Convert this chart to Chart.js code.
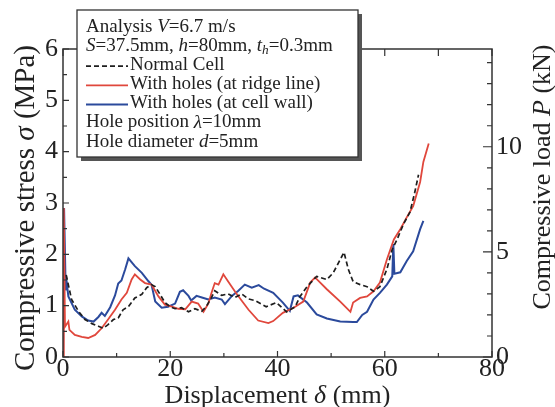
<!DOCTYPE html>
<html>
<head>
<meta charset="utf-8">
<script src="https://cdn.jsdelivr.net/npm/chart.js@4.4.1/dist/chart.umd.min.js"></script>
<style>
  html, body { margin: 0; padding: 0; background: #fff; }
  #wrap { width: 555px; height: 407px; }
</style>
</head>
<body>
<div id="wrap"><canvas id="myChart"></canvas></div>
<script>
// displacement (mm) / compressive stress (MPa)
var normalX = [0.6, 0.8, 1.6, 2.9, 4.1, 5.4, 6.6, 7.5, 8.4, 9.4, 10.3, 11.2, 12.2, 13.4, 14.7, 15.6, 16.5, 17.2, 18.1, 19.0,
               20.0, 20.9, 22.1, 23.4, 24.6, 25.9, 26.8, 27.7, 28.3, 29.6, 30.8, 32.1, 33.3, 34.6, 35.8, 37.9, 39.8, 41.7, 43.3, 44.2,
               45.5, 47.3, 49.2, 50.4, 51.7, 52.4, 53.2, 54.1, 55.4, 56.7, 57.9, 59.1, 60.4, 61.4, 62.3, 63.5, 64.7, 65.6, 66.3]
var normalY = [1.6, 1.5, 1.12, 0.89, 0.73, 0.65, 0.60, 0.56, 0.63, 0.73, 0.76, 0.92, 0.98, 1.15, 1.22, 1.35, 1.41, 1.37, 1.22, 1.06,
               0.98, 0.94, 0.96, 0.88, 0.94, 0.89, 1.0, 1.16, 1.29, 1.2, 1.23, 1.16, 1.23, 1.13, 1.1, 0.98, 1.06, 0.88, 0.98, 1.18,
               1.37, 1.57, 1.51, 1.64, 1.9, 2.04, 1.71, 1.47, 1.41, 1.37, 1.28, 1.37, 1.71, 2.1, 2.29, 2.59, 2.82, 3.21, 3.55]

var ridgeX = [0, 0.15, 0.37, 1.0, 1.2, 2.2, 3.5, 4.7, 6.0, 7.2, 8.4, 9.7, 10.9, 11.9, 12.8, 13.4, 14.4, 15.3, 16.5, 17.8,
              19.0, 20.3, 21.5, 22.8, 24.0, 25.2, 26.2, 27.1, 27.7, 28.3, 29.0, 29.9, 30.8, 32.1, 33.3, 34.6, 36.4, 38.3, 39.2, 41.0,
              43.0, 44.8, 46.1, 47.0, 49.2, 51.7, 53.6, 54.1, 55.4, 56.7, 57.9, 59.1, 60.4, 61.7, 62.9, 64.1, 65.3, 66.6, 67.2, 68.2]
var ridgeY = [0, 2.9, 0.59, 0.69, 0.53, 0.43, 0.39, 0.37, 0.43, 0.56, 0.73, 0.92, 1.12, 1.25, 1.51, 1.61, 1.51, 1.44, 1.41, 1.18,
              1.02, 0.98, 0.94, 0.93, 1.08, 1.04, 0.88, 1.04, 1.25, 1.44, 1.41, 1.61, 1.47, 1.27, 1.1, 0.92, 0.71, 0.66, 0.7, 0.86,
              0.96, 1.08, 1.45, 1.55, 1.32, 1.08, 0.88, 1.06, 1.15, 1.18, 1.28, 1.45, 1.9, 2.29, 2.49, 2.72, 2.94, 3.41, 3.8, 4.16]

var wallX = [0, 0.2, 0.5, 0.7, 1.0, 2.2, 3.5, 4.7, 5.7, 6.6, 7.2, 7.8, 8.8, 9.7, 10.3, 10.9, 11.6, 12.2, 13.4, 14.7,
             15.9, 16.5, 17.2, 18.4, 19.6, 20.9, 21.8, 22.4, 23.4, 23.9, 24.9, 25.9, 27.1, 28.3, 29.6, 30.2, 31.5, 32.7, 33.9, 35.2,
             36.5, 37.5, 39.2, 41.0, 42.3, 43.0, 43.8, 45.5, 47.3, 49.2, 51.7, 54.1, 54.8, 55.8, 56.7, 57.9, 59.1, 60.4, 61.4, 61.6,
             61.8, 62.9, 64.1, 65.3, 66.6, 67.2]
var wallY = [0, 2.9, 1.3, 1.45, 1.18, 0.92, 0.79, 0.71, 0.69, 0.78, 0.86, 0.80, 0.97, 1.2, 1.43, 1.49, 1.71, 1.92, 1.77, 1.64,
             1.48, 1.41, 1.08, 0.96, 0.98, 1.04, 1.27, 1.30, 1.19, 1.1, 1.19, 1.16, 1.12, 1.16, 1.12, 1.03, 1.19, 1.29, 1.41, 1.35,
             1.40, 1.33, 1.25, 1.06, 0.9, 1.18, 1.2, 1.06, 0.83, 0.75, 0.69, 0.68, 0.68, 0.82, 0.88, 1.12, 1.25, 1.41, 1.57, 2.2,
             1.62, 1.65, 1.87, 2.06, 2.49, 2.65]

var xTicks = [0, 20, 40, 60, 80]
var stressTicks = [0, 1, 2, 3, 4, 5, 6]
var loadTicks = [0, 5, 10]
var loadMax = 14.65   // right axis top, same height as 6 MPa

var serif = '"Liberation Serif", "DejaVu Serif", serif'

function pts(xs, ys) {
  return xs.map(function (x, i) { return { x: x, y: ys[i] } })
}

// text with italic / subscript parts
function rich(ctx, parts, x, y, size, align) {
  var w = 0
  parts.forEach(function (p) {
    ctx.font = (p[1] ? 'italic ' : '') + (p[2] ? size * 0.7 : size) + 'px ' + serif
    w += ctx.measureText(p[0]).width
  })
  var cx = align === 'center' ? x - w / 2 : x
  parts.forEach(function (p) {
    ctx.font = (p[1] ? 'italic ' : '') + (p[2] ? size * 0.7 : size) + 'px ' + serif
    ctx.fillText(p[0], cx, p[2] ? y + size * 0.22 : y)
    cx += ctx.measureText(p[0]).width
  })
}

var framePlugin = {
  id: 'frame',
  afterDatasetsDraw: function (chart) {
    var ctx = chart.ctx, a = chart.chartArea, s = chart.scales
    ctx.save()
    ctx.strokeStyle = '#333'
    ctx.lineWidth = 1.5
    ctx.strokeRect(a.left, a.top, a.right - a.left, a.bottom - a.top)
    ctx.lineWidth = 1.2
    ctx.beginPath()
    for (var v = 0; v <= 80; v += 10) {
      var px = s.x.getPixelForValue(v)
      var len = v % 20 === 0 ? 6 : 4
      ctx.moveTo(px, a.bottom); ctx.lineTo(px, a.bottom - len)
      ctx.moveTo(px, a.top); ctx.lineTo(px, a.top + 7)
    }
    for (var m = 0; m <= 6; m += 0.5) {
      var py = s.y.getPixelForValue(m)
      ctx.moveTo(a.left, py); ctx.lineTo(a.left + (m % 1 === 0 ? 6 : 4), py)
    }
    for (var k = 0; k <= 14; k += 1) {
      var qy = s.y2.getPixelForValue(k)
      ctx.moveTo(a.right, qy); ctx.lineTo(a.right - (k % 5 === 0 ? 9 : 5), qy)
    }
    ctx.stroke()

    // axis titles
    ctx.fillStyle = '#222'
    ctx.textBaseline = 'alphabetic'
    rich(ctx, [['Displacement '], ['δ', true], [' (mm)']], (a.left + a.right) / 2, 403, 26, 'center')
    ctx.save()
    ctx.translate(34, 208)
    ctx.rotate(-Math.PI / 2)
    rich(ctx, [['Compressive stress '], ['σ', true], [' (MPa)']], 0, 0, 29, 'center')
    ctx.restore()
    ctx.save()
    ctx.translate(550, 177)
    ctx.rotate(-Math.PI / 2)
    rich(ctx, [['Compressive load '], ['P', true], [' (kN)']], 0, 0, 26, 'center')
    ctx.restore()
    ctx.restore()
  },
  afterDraw: function (chart) {
    var ctx = chart.ctx
    var bx = 77, by = 10, bw = 281, bh = 147
    ctx.save()
    ctx.fillStyle = '#555'
    ctx.fillRect(bx + 4, by + 4, bw, bh)
    ctx.fillStyle = '#fff'
    ctx.fillRect(bx, by, bw, bh)
    ctx.strokeStyle = '#333'
    ctx.lineWidth = 1.3
    ctx.strokeRect(bx, by, bw, bh)

    var fs = 19, lx = 86, row = function (i) { return 27 + 19.1 * i }
    ctx.fillStyle = '#222'
    ctx.textBaseline = 'middle'
    rich(ctx, [['Analysis '], ['V', true], ['=6.7 m/s']], lx, row(0), fs)
    rich(ctx, [['S', true], ['=37.5mm, '], ['h', true], ['=80mm, '], ['t', true], ['h', true, true], ['=0.3mm']], lx, row(1), fs)
    var names = ['Normal Cell', 'With holes (at ridge line)', 'With holes (at cell wall)']
    var ds = chart.data.datasets
    for (var i = 0; i < 3; i++) {
      var d = ds[i]
      ctx.save()
      ctx.strokeStyle = d.borderColor
      ctx.lineWidth = d.borderWidth
      ctx.setLineDash(d.borderDash || [])
      ctx.beginPath()
      ctx.moveTo(lx, row(2 + i) + 1)
      ctx.lineTo(lx + 42, row(2 + i) + 1)
      ctx.stroke()
      ctx.restore()
      rich(ctx, [[names[i]]], lx + 44, row(2 + i), fs)
    }
    rich(ctx, [['Hole position '], ['λ', true], ['=10mm']], lx, row(5), fs)
    rich(ctx, [['Hole diameter '], ['d', true], ['=5mm']], lx, row(6), fs)
    ctx.restore()
  }
}

var tickFont = { family: serif, size: 26 }

new Chart(document.getElementById('myChart'), {
  type: 'line',
  data: {
    datasets: [
      { label: 'Normal Cell', data: pts(normalX, normalY), borderColor: '#1e1e1e', borderWidth: 1.7,
        borderDash: [5, 3], pointRadius: 0, fill: false, tension: 0, order: 0 },
      { label: 'With holes (at ridge line)', data: pts(ridgeX, ridgeY), borderColor: '#e0473c', borderWidth: 1.8,
        pointRadius: 0, fill: false, tension: 0, order: 1 },
      { label: 'With holes (at cell wall)', data: pts(wallX, wallY), borderColor: '#2b4a9c', borderWidth: 2,
        pointRadius: 0, fill: false, tension: 0, order: 2 }
    ]
  },
  options: {
    responsive: true,
    maintainAspectRatio: false,
    animation: false,
    layout: { padding: { top: 49, left: 0, right: 0, bottom: 0 } },
    plugins: { legend: { display: false }, tooltip: { enabled: false } },
    scales: {
      x: {
        type: 'linear', min: 0, max: 80,
        afterFit: function (s) { s.height = 50 },
        afterBuildTicks: function (s) { s.ticks = xTicks.map(function (v) { return { value: v } }) },
        grid: { display: false, drawTicks: false }, border: { display: false },
        ticks: { font: tickFont, color: '#222', padding: -3, maxRotation: 0 }
      },
      y: {
        position: 'left', min: 0, max: 6,
        afterFit: function (s) { s.width = 63 },
        afterBuildTicks: function (s) { s.ticks = stressTicks.map(function (v) { return { value: v } }) },
        grid: { display: false, drawTicks: false }, border: { display: false },
        ticks: { font: tickFont, color: '#222', padding: 5 }
      },
      y2: {
        position: 'right', min: 0, max: loadMax,
        afterFit: function (s) { s.width = 63 },
        afterBuildTicks: function (s) { s.ticks = loadTicks.map(function (v) { return { value: v } }) },
        grid: { display: false, drawTicks: false }, border: { display: false },
        ticks: { font: tickFont, color: '#222', padding: 4 }
      }
    }
  },
  plugins: [framePlugin]
})
</script>
</body>
</html>
